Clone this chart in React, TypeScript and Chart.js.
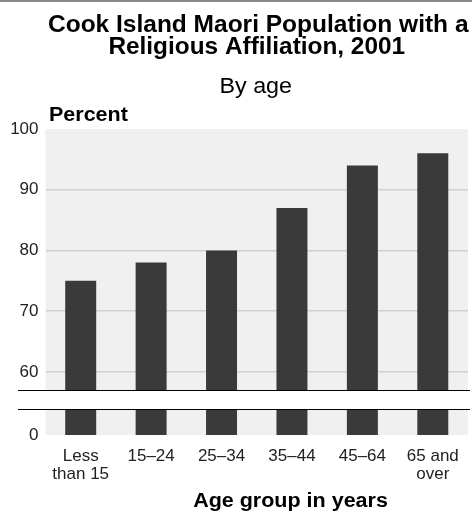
import React, { useEffect, useRef } from "react";
import { Chart, registerables } from "chart.js";

Chart.register(...registerables);

const categories: string[][] = [["Less", "than 15"], ["15–24"], ["25–34"], ["35–44"], ["45–64"], ["65 and", "over"]];
const values: number[] = [75, 78, 80, 87, 94, 96];
const tickValues: number[] = [60, 70, 80, 90, 100];
const titleLines: string[] = ["Cook Island Maori Population with a", "Religious Affiliation, 2001"];
const subtitle = "By age";
const yTitle = "Percent";
const xTitle = "Age group in years";

// broken axis: the bottom of the scale represents 0
const axisMin = 49.6;
const axisMax = 100;
const breakLow = 53.9;
const breakHigh = 57.0;

const FONT = "'Liberation Sans', Arial, sans-serif";

function drawText(ctx: any, text: string, x: number, y: number, font: string, sx: number, align: string) {
  ctx.save();
  ctx.font = font;
  const w = ctx.measureText(text).width * sx;
  const left = align === "center" ? x - w / 2 : x;
  ctx.translate(left, y);
  ctx.scale(sx, 1);
  ctx.textAlign = "left";
  ctx.fillText(text, 0, 0);
  ctx.restore();
}

export default function App() {
  const ref = useRef<HTMLCanvasElement>(null);
  useEffect(() => {
    const decor = {
      id: "decor",
      beforeDraw(chart: any) {
        const { ctx, chartArea } = chart;
        ctx.save();
        ctx.fillStyle = "#ffffff";
        ctx.fillRect(0, 0, chart.width, chart.height);
        ctx.fillStyle = "#f0f0f0";
        ctx.fillRect(chartArea.left, chartArea.top, chartArea.right - chartArea.left, chartArea.bottom - chartArea.top);
        ctx.restore();
      },
      afterDatasetsDraw(chart: any) {
        const { ctx } = chart;
        const y = chart.scales.y;
        const y1 = Math.round(y.getPixelForValue(breakHigh)) + 0.5;
        const y2 = Math.round(y.getPixelForValue(breakLow)) + 0.5;
        ctx.save();
        ctx.fillStyle = "#ffffff";
        ctx.fillRect(0, y1, chart.width, y2 - y1);
        ctx.strokeStyle = "#000000";
        ctx.lineWidth = 1.2;
        ctx.beginPath();
        ctx.moveTo(18, y1);
        ctx.lineTo(470, y1);
        ctx.moveTo(18, y2);
        ctx.lineTo(470, y2);
        ctx.stroke();
        ctx.restore();
      },
      afterDraw(chart: any) {
        const { ctx, chartArea } = chart;
        ctx.save();
        ctx.fillStyle = "#888888";
        ctx.fillRect(0, 0, chart.width, 2);
        const cx = (chartArea.left + chartArea.right) / 2;
        ctx.fillStyle = "#000000";
        ctx.textBaseline = "alphabetic";
        drawText(ctx, titleLines[0], cx + 1.5, 31.5, `bold 23px ${FONT}`, 1.065, "center");
        drawText(ctx, titleLines[1], cx, 54, `bold 23px ${FONT}`, 1.06, "center");
        drawText(ctx, subtitle, cx - 1, 92.5, `22px ${FONT}`, 1.06, "center");
        drawText(ctx, yTitle, 49, 121, `bold 20px ${FONT}`, 1.075, "left");
        drawText(ctx, xTitle, 290.5, 507, `bold 20px ${FONT}`, 1.075, "center");
        ctx.restore();
      },
    };

    const chart = new Chart(ref.current as HTMLCanvasElement, {
      type: "bar",
      data: {
        labels: categories,
        datasets: [
          {
            data: values,
            backgroundColor: "#3a3a3a",
            borderWidth: 0,
            barPercentage: 0.44,
            categoryPercentage: 1,
          },
        ],
      },
      options: {
        animation: false,
        responsive: false,
        devicePixelRatio: 1,
        layout: { padding: { left: 0, right: 4, top: 129, bottom: 0 } },
        plugins: { legend: { display: false }, tooltip: { enabled: false }, title: { display: false } },
        scales: {
          x: {
            grid: { display: false, drawTicks: false },
            border: { display: false },
            ticks: {
              color: "#222222",
              font: { family: FONT, size: 17, lineHeight: 1.08 },
              padding: 12,
              maxRotation: 0,
              autoSkip: false,
            },
            afterFit(scale: any) {
              scale.height = 77;
            },
          },
          y: {
            min: axisMin,
            max: axisMax,
            afterBuildTicks(scale: any) {
              scale.ticks = [{ value: axisMin }, ...tickValues.map((v) => ({ value: v }))];
            },
            afterFit(scale: any) {
              scale.width = 45.5;
            },
            grid: {
              drawTicks: false,
              color: (c: any) => (c.tick && c.tick.value > axisMin && c.tick.value < axisMax ? "#d0d0d0" : "rgba(0,0,0,0)"),
              lineWidth: 1.5,
            },
            border: { display: false },
            ticks: {
              color: "#222222",
              font: { family: FONT, size: 17 },
              padding: 7,
              callback: (v: any) => (v === axisMin ? "0" : String(v)),
            },
          },
        },
      },
      plugins: [decor],
    });
    return () => chart.destroy();
  }, []);

  return (
    <div style={{ position: "absolute", left: 0, top: 0, width: 472, height: 512 }}>
      <canvas ref={ref} width={472} height={512} style={{ width: 472, height: 512, display: "block" }} />
    </div>
  );
}
